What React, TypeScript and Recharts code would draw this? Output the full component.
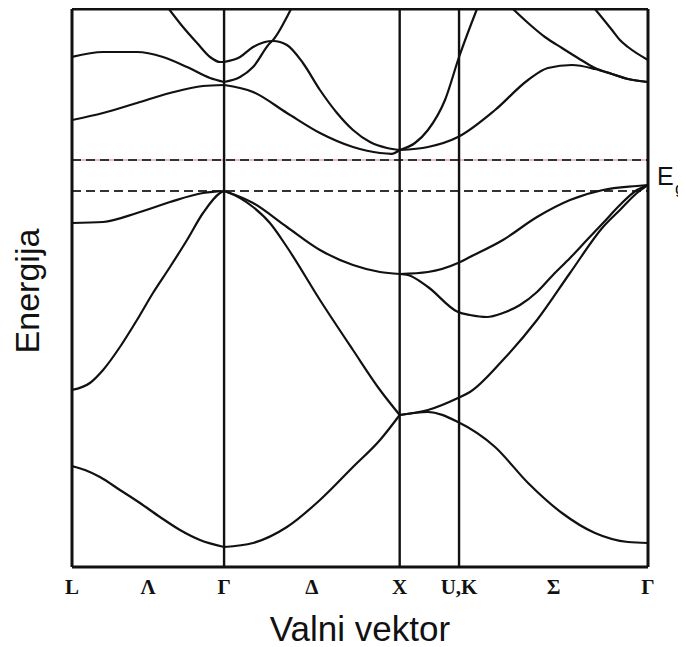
import { Line, LineChart, ReferenceLine, XAxis, YAxis } from "recharts";

// k path L - Γ - X - U,K - Γ (FCC, lengths in 2π/a), energy in arbitrary units
const K_TICKS = [0, 0.433, 0.866, 1.366, 1.866, 2.204, 2.742, 3.28];
const K_LABELS = ["L", "Λ", "Γ", "Δ", "X", "U,K", "Σ", "Γ"];
const SYMMETRY_K = [0.866, 1.866, 2.204];
const K_MAX = 3.28;
const E_TOP = 4.55;
const E_BOTTOM = -9.4;
const VALENCE_TOP = 0;
const CONDUCTION_BOTTOM = 0.775;

type Pt = [number, number];

// L -> Γ
const lgBand1: Pt[] = [[0, -6.875], [0.074, -6.975], [0.159, -7.15], [0.273, -7.475], [0.387, -7.8], [0.501, -8.15], [0.615, -8.475], [0.729, -8.725], [0.866, -8.9]];
const lgBand2: Pt[] = [[0, -4.975], [0.102, -4.8], [0.177, -4.475], [0.273, -3.9], [0.37, -3.225], [0.461, -2.55], [0.558, -1.9], [0.655, -1.225], [0.746, -0.55], [0.843, -0.05], [0.866, 0]];
const lgBand3: Pt[] = [[0, -0.8], [0.177, -0.775], [0.37, -0.55], [0.558, -0.275], [0.746, -0.05], [0.8, -0.02], [0.866, 0]];
const lgBand4: Pt[] = [[0, 1.775], [0.177, 1.95], [0.37, 2.2], [0.558, 2.45], [0.746, 2.625], [0.866, 2.65]];
const lgBand5: Pt[] = [[0, 3.35], [0.177, 3.475], [0.37, 3.475], [0.518, 3.35], [0.655, 3.1], [0.786, 2.825], [0.866, 2.725]];
const lgBand6: Pt[] = [[0.552, 4.55], [0.632, 4.1], [0.712, 3.7], [0.786, 3.35], [0.843, 3.225], [0.866, 3.225]];

// Γ -> X
const gxBand1: Pt[] = [[0.866, -8.9], [1.031, -8.8], [1.224, -8.4], [1.412, -7.725], [1.6, -6.9], [1.754, -6.225], [1.866, -5.6]];
const gxBand2: Pt[] = [[0.866, 0], [0.883, -0.025], [1.031, -0.4], [1.127, -0.8], [1.224, -1.4], [1.412, -2.725], [1.6, -3.975], [1.754, -4.975], [1.866, -5.6]];
const gxBand3: Pt[] = [[0.866, 0], [0.883, -0.025], [1.031, -0.3], [1.224, -0.9], [1.412, -1.475], [1.6, -1.85], [1.754, -2.025], [1.866, -2.075]];
const gxBand4: Pt[] = [[0.866, 2.65], [1.031, 2.475], [1.224, 1.95], [1.412, 1.45], [1.6, 1.1], [1.754, 0.95], [1.82, 0.93], [1.866, 1.025]];
const gxBand5: Pt[] = [[0.866, 2.725], [0.957, 2.85], [1.031, 3.1], [1.127, 3.7], [1.145, 3.775], [1.224, 4.35], [1.247, 4.55]];
const gxBand6: Pt[] = [[0.866, 3.225], [0.957, 3.35], [1.031, 3.6], [1.145, 3.75], [1.224, 3.65], [1.315, 3.2], [1.412, 2.525], [1.509, 1.95], [1.6, 1.525], [1.697, 1.225], [1.794, 1.075], [1.866, 1.025]];

// X -> U,K -> Γ
const xgBand1: Pt[] = [[1.866, 1.025], [1.953, 1.2], [2.027, 1.525], [2.124, 2.275], [2.204, 3.35], [2.306, 4.55]];
const xgBand2: Pt[] = [[1.866, 1.025], [2.027, 1.1], [2.198, 1.35], [2.409, 2.025], [2.597, 2.775], [2.71, 3.075], [2.847, 3.15], [2.978, 3.05], [3.075, 2.925], [3.166, 2.8], [3.28, 2.725]];
const xgBand3: Pt[] = [[2.511, 4.55], [2.597, 4.2], [2.693, 3.85], [2.79, 3.575], [2.881, 3.325], [2.978, 3.075], [3.075, 2.925], [3.166, 2.8], [3.28, 2.725]];
const xgBand4: Pt[] = [[2.978, 4.55], [3.075, 4.025], [3.12, 3.775], [3.166, 3.6], [3.28, 3.275]];
const xgBand5: Pt[] = [[1.866, -2.075], [2.027, -2.025], [2.198, -1.8], [2.266, -1.65], [2.454, -1.225], [2.648, -0.65], [2.836, -0.225], [3.024, 0.025], [3.217, 0.125], [3.28, 0.15]];
const xgBand6: Pt[] = [[1.866, -2.075], [1.913, -2.1], [2.027, -2.4], [2.198, -3.025], [2.266, -3.1], [2.363, -3.15], [2.454, -3.05], [2.551, -2.85], [2.648, -2.525], [2.739, -2.1], [2.836, -1.675], [2.932, -1.225], [3.024, -0.8], [3.12, -0.35], [3.217, 0.025], [3.28, 0.15]];
const xgBand7: Pt[] = [[1.866, -5.6], [2.027, -5.475], [2.198, -5.175], [2.266, -5.025], [2.454, -4.225], [2.648, -3.225], [2.836, -2.05], [3.024, -0.9], [3.12, -0.475], [3.217, -0.05], [3.28, 0.15]];
const xgBand8: Pt[] = [[1.866, -5.6], [2.027, -5.525], [2.198, -5.775], [2.409, -6.4], [2.597, -7.3], [2.79, -8.05], [2.978, -8.55], [3.166, -8.775], [3.28, -8.8]];

const BANDS: Pt[][] = [
  lgBand1, lgBand2, lgBand3, lgBand4, lgBand5, lgBand6,
  gxBand1, gxBand2, gxBand3, gxBand4, gxBand5, gxBand6,
  xgBand1, xgBand2, xgBand3, xgBand4, xgBand5, xgBand6, xgBand7, xgBand8,
];

const W = 678;
const H = 639;
const SANS = "'Liberation Sans', Arial, sans-serif";
const SERIF = "'Liberation Serif', 'Times New Roman', serif";

function KTick({ x, y, payload }: any) {
  const i = K_TICKS.indexOf(payload.value);
  return (
    <text x={x} y={y + 27} textAnchor="middle" fontFamily={SERIF} fontWeight="bold" fontSize={21} fill="#111">
      {K_LABELS[i] ?? ""}
    </text>
  );
}

export default function App() {
  return (
    <div style={{ position: "relative", width: W, height: H }}>
      <LineChart width={W} height={H} margin={{ top: 1, right: 38, bottom: 50, left: 64 }}>
        <XAxis
          type="number"
          dataKey="k"
          domain={[0, K_MAX]}
          ticks={K_TICKS}
          interval={0}
          allowDataOverflow
          axisLine={false}
          tickLine={false}
          tickSize={0}
          tickMargin={0}
          height={30}
          tick={<KTick />}
        />
        <YAxis type="number" domain={[E_BOTTOM, E_TOP]} allowDataOverflow hide />

        <ReferenceLine y={CONDUCTION_BOTTOM} stroke="#e7a3c3" strokeWidth={1.5} />
        <ReferenceLine y={CONDUCTION_BOTTOM} stroke="#333" strokeWidth={2.2} strokeDasharray="9 5" />
        <ReferenceLine y={VALENCE_TOP} stroke="#333" strokeWidth={2.2} strokeDasharray="9 5" />

        {SYMMETRY_K.map((k) => (
          <ReferenceLine key={k} x={k} stroke="#111" strokeWidth={2.4} />
        ))}

        {BANDS.map((band, i) => (
          <Line
            key={i}
            data={band.map(([k, e]) => ({ k, e }))}
            dataKey="e"
            type="monotone"
            stroke="#111"
            strokeWidth={2.2}
            dot={false}
            activeDot={false}
            isAnimationActive={false}
          />
        ))}

        <ReferenceLine x={0} stroke="#111" strokeWidth={3} />
        <ReferenceLine x={K_MAX} stroke="#111" strokeWidth={3} />
        <ReferenceLine y={E_TOP} stroke="#111" strokeWidth={3} />
        <ReferenceLine y={E_BOTTOM} stroke="#111" strokeWidth={3} />
      </LineChart>

      <svg width={W} height={H} style={{ position: "absolute", left: 0, top: 0, pointerEvents: "none", overflow: "visible" }}>
        <text x={352} y={633} textAnchor="middle" fontFamily={SANS} fontSize={35} fill="#111">
          Valni vektor
        </text>
        <text transform="translate(31, 283) rotate(-90)" textAnchor="middle" fontFamily={SANS} fontSize={34} fill="#111">
          Energija
        </text>
        <text x={649} y={177} fontFamily={SANS} fontSize={25} fill="#111">E</text>
        <text x={667} y={186} fontFamily={SANS} fontSize={17} fill="#111">g</text>
      </svg>
    </div>
  );
}
